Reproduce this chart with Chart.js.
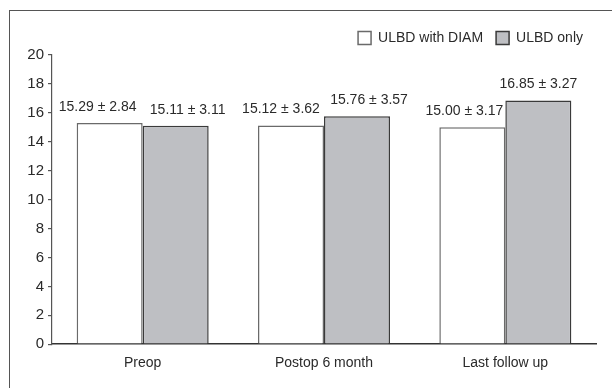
<!DOCTYPE html>
<html>
<head>
<meta charset="utf-8">
<script src="https://cdn.jsdelivr.net/npm/chart.js@4/dist/chart.umd.min.js"></script>
<style>
  html, body { margin: 0; padding: 0; background: #fff; }
  #wrap { position: relative; width: 612px; height: 388px; overflow: hidden; }
  #frame { position: absolute; left: 9px; top: 10px; width: 620px; height: 400px;
           border-top: 1.5px solid #555; border-left: 1.5px solid #555; }
  #chart { position: absolute; left: 0; top: 0; }
</style>
</head>
<body>
<div id="wrap">
  <div id="frame"></div>
  <canvas id="chart" width="612" height="388"></canvas>
</div>
<script>
const categories = ['Preop', 'Postop 6 month', 'Last follow up'];
const seriesNames = ['ULBD with DIAM', 'ULBD only'];
const diamMean = [15.29, 15.12, 15.00];
const diamSD = [2.84, 3.62, 3.17];
const onlyMean = [15.11, 15.76, 16.85];
const onlySD = [3.11, 3.57, 3.27];
const yTicks = [0, 2, 4, 6, 8, 10, 12, 14, 16, 18, 20];

const fontFamily = '"Liberation Sans", Arial, sans-serif';
const textColor = '#2a2a2a';
const lineColor = '#555';

// horizontal nudge of the mean ± SD labels so neighbours don't collide
const labelShift = [[-12, -10, -8], [12, 12, 0]];

const sdLabels = {
  id: 'sdLabels',
  afterDatasetsDraw(chart) {
    const ctx = chart.ctx;
    const sds = [diamSD, onlySD];
    ctx.save();
    ctx.font = '14px ' + fontFamily;
    ctx.fillStyle = textColor;
    ctx.textAlign = 'center';
    ctx.textBaseline = 'bottom';
    chart.data.datasets.forEach((ds, di) => {
      const meta = chart.getDatasetMeta(di);
      meta.data.forEach((bar, i) => {
        const txt = ds.data[i].toFixed(2) + ' \u00b1 ' + sds[di][i].toFixed(2);
        ctx.fillText(txt, bar.x + labelShift[di][i], bar.y - 9);
      });
    });
    ctx.restore();
  }
};

const ctx = document.getElementById('chart').getContext('2d');
new Chart(ctx, {
  type: 'bar',
  data: {
    labels: categories,
    datasets: [
      {
        label: seriesNames[0],
        data: diamMean,
        backgroundColor: '#ffffff',
        borderColor: '#6a6a6a',
        borderWidth: 1.5,
        borderSkipped: 'start'
      },
      {
        label: seriesNames[1],
        data: onlyMean,
        backgroundColor: '#bebfc3',
        borderColor: '#3a3a3a',
        borderWidth: 1.5,
        borderSkipped: 'start'
      }
    ]
  },
  options: {
    responsive: false,
    animation: false,
    devicePixelRatio: 1,
    datasets: {
      bar: { categoryPercentage: 0.728, barPercentage: 1.0 }
    },
    layout: { padding: { top: 18, right: 16, bottom: 5, left: 0 } },
    scales: {
      x: {
        grid: { display: true, drawOnChartArea: false, drawTicks: false },
        border: { display: true, color: '#333', width: 1.5 },
        ticks: { color: textColor, font: { family: fontFamily, size: 14 }, padding: 11 }
      },
      y: {
        min: 0,
        max: 20,
        afterBuildTicks(scale) {
          scale.ticks = yTicks.map(v => ({ value: v }));
        },
        afterFit(scale) { scale.width = 52; },
        grid: { drawOnChartArea: false, drawTicks: true, tickLength: 4, color: lineColor, lineWidth: 1.2 },
        border: { display: true, color: lineColor, width: 1.2 },
        ticks: { color: textColor, font: { family: fontFamily, size: 15 }, padding: 4 }
      }
    },
    plugins: {
      legend: {
        display: true,
        position: 'top',
        align: 'end',
        labels: {
          color: textColor,
          font: { family: fontFamily, size: 14 },
          boxWidth: 13,
          boxHeight: 13,
          padding: 13
        }
      },
      tooltip: { enabled: false }
    }
  },
  plugins: [sdLabels]
});
</script>
</body>
</html>
